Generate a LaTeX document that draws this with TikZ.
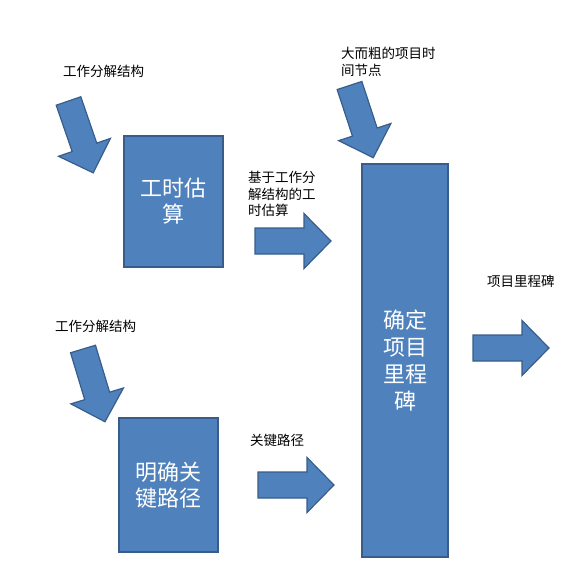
\documentclass[tikz,border=0pt]{standalone}
\usepackage{fontspec}
\setmainfont{Noto Sans CJK SC}
\definecolor{boxblue}{HTML}{4F81BD}
\definecolor{boxedge}{HTML}{385D8A}
\tikzset{
    block/.style={
        draw=boxedge,
        line width=2pt,
        fill=boxblue,
        text=white,
        font=\fontsize{22}{26}\selectfont,
        align=center,
        inner sep=0pt
    },
    note/.style={
        font=\fontsize{13.5}{16.5}\selectfont,
        align=left,
        inner sep=0pt
    },
    fatarrow/.pic={
        \draw[draw=boxedge, line width=1.2pt, fill=boxblue, line join=miter]
            (0,-13) -- (49,-13) -- (49,-27.5) -- (76,0)
            -- (49,27.5) -- (49,13) -- (0,13) -- cycle;
    }
}
\begin{document}
\begin{tikzpicture}[x=1pt, y=-1pt]
            \useasboundingbox (0,0) rectangle (580,586);

            \node[
                block,
                minimum width=99pt,
                minimum height=131pt,
                name=estimate
            ] at (173.5,201.5) {工时估\\算};
            \node[
                block,
                minimum width=99pt,
                minimum height=134pt,
                name=critical
            ] at (168.5,485) {明确关\\键路径};
            \node[
                block,
                minimum width=86pt,
                minimum height=393pt,
                font=\fontsize{22}{27}\selectfont,
                name=milestone
            ] at (405,360.5) {确定\\项目\\里程\\碑};

            \node[note, anchor=west, name=wbsa] at (63,71) {工作分解结构};
            \node[note, anchor=north west, name=basis] at (248,171) {基于工作分\\解结构的工\\时估算};
            \node[note, anchor=north west, name=bignode] at (341,47) {大而粗的项目时\\间节点};
            \node[note, anchor=west, name=result] at (487,281) {项目里程碑};
            \node[note, anchor=west, name=wbsb] at (55,326) {工作分解结构};
            \node[note, anchor=west, name=path] at (250,440) {关键路径};

            \pic[rotate=-71] at (68.5,101) {fatarrow};
            \pic[rotate=-73.2] at (83,349) {fatarrow};
            \pic[rotate=-71.8] at (349.5,85.5) {fatarrow};

            \pic at (255,241) {fatarrow};
            \pic at (258,485) {fatarrow};
            \pic at (473,348) {fatarrow};
        \end{tikzpicture}
\end{document}
